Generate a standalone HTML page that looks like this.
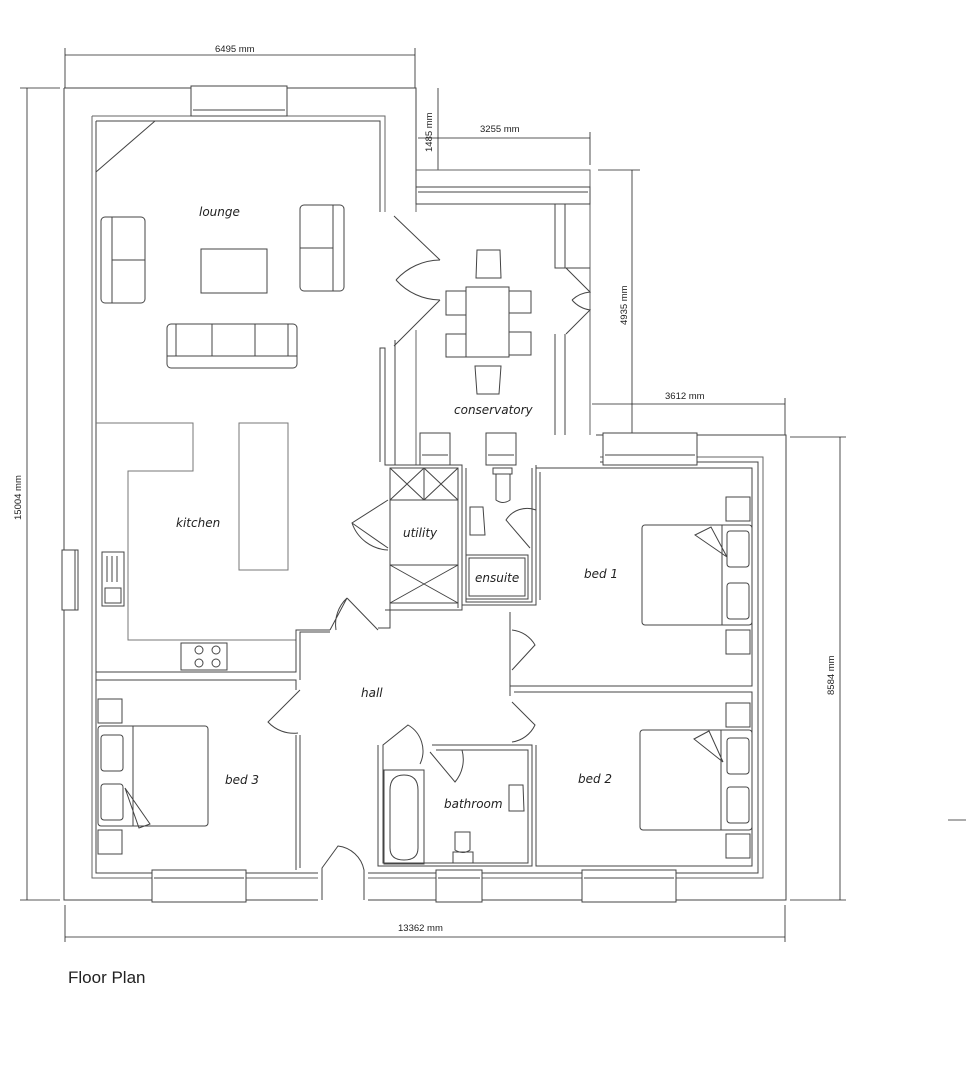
<!DOCTYPE html>
<html><head><style>
html,body{margin:0;padding:0;background:#fff;width:966px;height:1080px;overflow:hidden}
svg{display:block}
text{font-family:"Comic Sans MS","DejaVu Sans",sans-serif;fill:#222;stroke:none}
.l{font-size:12px;font-style:italic}
.d{font-family:"Liberation Sans",sans-serif;font-size:9.5px}
</style></head><body>
<svg width="966" height="1080" viewBox="0 0 966 1080" fill="none" stroke="#444" stroke-width="1">
<g stroke="#222" stroke-width="0.8">
<line x1="65" y1="55" x2="415" y2="55"/><line x1="65" y1="48" x2="65" y2="88"/><line x1="415" y1="48" x2="415" y2="88"/>
<line x1="27" y1="88" x2="27" y2="900"/><line x1="20" y1="88" x2="60" y2="88"/><line x1="20" y1="900" x2="60" y2="900"/>
<line x1="65" y1="937" x2="785" y2="937"/><line x1="65" y1="905" x2="65" y2="942"/><line x1="785" y1="905" x2="785" y2="942"/>
<line x1="418" y1="138" x2="590" y2="138"/><line x1="590" y1="132" x2="590" y2="165"/>
<line x1="438" y1="88" x2="438" y2="170"/>
<line x1="632" y1="170" x2="632" y2="435"/><line x1="598" y1="170" x2="640" y2="170"/>
<line x1="592" y1="404" x2="785" y2="404"/><line x1="785" y1="398" x2="785" y2="435"/>
<line x1="840" y1="437" x2="840" y2="900"/><line x1="790" y1="437" x2="846" y2="437"/><line x1="790" y1="900" x2="846" y2="900"/>
<line x1="948" y1="820" x2="966" y2="820"/>
</g>
<text class="d" x="215" y="52">6495 mm</text>
<text class="d" x="480" y="132">3255 mm</text>
<text class="d" x="665" y="399">3612 mm</text>
<text class="d" x="398" y="931">13362 mm</text>
<text class="d" transform="translate(21,520) rotate(-90)">15004 mm</text>
<text class="d" transform="translate(432,152) rotate(-90)">1485 mm</text>
<text class="d" transform="translate(627,325) rotate(-90)">4935 mm</text>
<text class="d" transform="translate(834,695) rotate(-90)">8584 mm</text>

<path d="M64 88 H416 V195 M64 88 V900 H786 V435 H596" />
<path d="M92 116 H385 V212 M92 116 V878 H763 V457 H600" stroke="#666"/>
<path d="M96 121 H380 V212 M96 121 V873 H758 V462 H600"/>
<rect x="191" y="86" width="96" height="30" fill="#fff"/>
<line x1="193" y1="110" x2="285" y2="110"/>
<rect x="62" y="550" width="16" height="60" fill="#fff"/>
<line x1="75" y1="550" x2="75" y2="610"/>
<rect x="152" y="870" width="94" height="32" fill="#fff"/><line x1="154" y1="878" x2="244" y2="878"/>
<rect x="436" y="870" width="46" height="32" fill="#fff"/><line x1="438" y1="878" x2="480" y2="878"/>
<rect x="582" y="870" width="94" height="32" fill="#fff"/><line x1="584" y1="878" x2="674" y2="878"/>
<rect x="318" y="868" width="50" height="34" fill="#fff" stroke="none"/>
<path d="M322 900 V868 L338 846 A30 30 0 0 1 364 870 V900"/>
<rect x="603" y="433" width="94" height="32" fill="#fff"/><line x1="605" y1="455" x2="695" y2="455"/>
<rect x="420" y="433" width="30" height="32" fill="#fff"/><line x1="422" y1="455" x2="448" y2="455"/>
<rect x="486" y="433" width="30" height="32" fill="#fff"/><line x1="488" y1="455" x2="514" y2="455"/>

<line x1="96" y1="172" x2="155" y2="121"/>
<path d="M416 170 H590 V435 M416 195 V212 M416 330 V465" stroke="#666"/>
<rect x="416" y="187" width="174" height="17"/>
<line x1="418" y1="192" x2="588" y2="192"/>
<path d="M555 204 V268 H590 M555 334 V435 M565 204 V268 M565 334 V435"/>
<path d="M395 340 V465 H385 V348 H380 V462"/>
<path d="M394 216 L440 260 M440 260 A60 60 0 0 0 396 280 M394 346 L440 300 M440 300 A60 60 0 0 1 396 280"/>
<path d="M566 268 L590 292 A30 30 0 0 0 572 300 M566 334 L590 310 A30 30 0 0 1 572 300"/>
<rect x="466" y="287" width="43" height="70"/>
<path d="M446 291 H466 V315 H446 Z M446 334 H466 V357 H446 Z M509 291 H531 V313 H509 Z M509 332 H531 V355 H509 Z"/>
<path d="M477 250 H500 L501 278 H476 Z M475 366 H501 L499 394 H477 Z"/>
<rect x="101" y="217" width="44" height="86" rx="4"/><line x1="112" y1="217" x2="112" y2="303"/><line x1="112" y1="260" x2="145" y2="260"/>
<rect x="300" y="205" width="44" height="86" rx="4"/><line x1="333" y1="205" x2="333" y2="291"/><line x1="300" y1="248" x2="333" y2="248"/>
<rect x="201" y="249" width="66" height="44"/>
<rect x="167" y="324" width="130" height="44" rx="4"/><line x1="167" y1="356" x2="297" y2="356"/><line x1="212" y1="324" x2="212" y2="356"/><line x1="255" y1="324" x2="255" y2="356"/><line x1="176" y1="324" x2="176" y2="356"/><line x1="288" y1="324" x2="288" y2="356"/>
<path d="M96 423 H193 V471 H128 V640 H296" stroke="#777"/>
<rect x="239" y="423" width="49" height="147" stroke="#777"/>
<rect x="102" y="552" width="22" height="54"/><line x1="107" y1="556" x2="107" y2="582"/><line x1="112" y1="556" x2="112" y2="582"/><line x1="117" y1="556" x2="117" y2="582"/><rect x="105" y="588" width="16" height="15"/>
<rect x="181" y="643" width="46" height="27"/><circle cx="199" cy="650" r="4"/><circle cx="216" cy="650" r="4"/><circle cx="199" cy="663" r="4"/><circle cx="216" cy="663" r="4"/>
<path d="M96 672 H296 V630 H330 M96 680 H296 V690 M300 680 V632 H330 M296 735 V870 M300 735 V868"/>
<path d="M300 690 L268 722 A35 35 0 0 0 298 733"/>
<path d="M330 630 L347 598 A36 36 0 0 0 336 630"/>
<path d="M347 598 L378 630"/>
<path d="M385 465 H462 V610 H385 M390 468 V628 H378 M458 468 V608"/>
<path d="M390 468 H458 V500 H390 Z M390 468 L424 500 M424 468 L390 500 M424 468 L458 500 M458 468 L424 500 M424 468 V500"/>
<path d="M390 565 H458 V603 H390 Z M390 565 L458 603 M458 565 L390 603"/>
<path d="M388 500 L352 523 A40 40 0 0 0 388 550 M352 523 L388 548"/>
<path d="M462 465 V605 H536 V465 M466 468 V602 H532 V468"/>
<rect x="466" y="555" width="62" height="44"/><rect x="469" y="558" width="56" height="38"/>
<path d="M493 468 H512 V474 H493 Z M496 474 H510 V500 Q503 505 496 500 Z"/>
<path d="M470 507 H483 L485 535 H470 Z"/>
<path d="M536 510 A25 25 0 0 0 506 520 L530 548"/>
<path d="M536 468 H752 V686 H510 V612 M540 472 V600 M514 692 H752 V866 H536 V745 M510 620 V632 M510 686 V696"/>
<path d="M512 630 A30 30 0 0 1 535 645 L512 670 M512 702 L535 725 A30 30 0 0 1 512 742"/>
<rect x="642" y="525" width="110" height="100" rx="3"/><line x1="722" y1="525" x2="722" y2="625"/><rect x="727" y="531" width="22" height="36" rx="3"/><rect x="727" y="583" width="22" height="36" rx="3"/>
<path d="M695 535 L711 527 L727 557 Z"/>
<rect x="726" y="497" width="24" height="24"/><rect x="726" y="630" width="24" height="24"/>
<rect x="640" y="730" width="112" height="100" rx="3"/><line x1="721" y1="730" x2="721" y2="830"/><rect x="727" y="738" width="22" height="36" rx="3"/><rect x="727" y="787" width="22" height="36" rx="3"/>
<path d="M694 739 L709 731 L723 762 Z"/>
<rect x="726" y="703" width="24" height="24"/><rect x="726" y="834" width="24" height="24"/>
<rect x="98" y="726" width="110" height="100" rx="3"/><line x1="133" y1="726" x2="133" y2="826"/><rect x="101" y="735" width="22" height="36" rx="3"/><rect x="101" y="784" width="22" height="36" rx="3"/>
<path d="M125 788 L150 824 L139 828 Z"/>
<rect x="98" y="699" width="24" height="24"/><rect x="98" y="830" width="24" height="24"/>
<path d="M378 745 V866 H532 V745 H432 M383 748 V863 H528 V750 H436"/>
<rect x="384" y="770" width="40" height="94"/><path d="M390 790 Q390 775 404 775 Q418 775 418 790 V848 Q418 860 404 860 Q390 860 390 848 Z"/>
<path d="M383 764 V745 L408 725 A30 30 0 0 1 420 764 M430 752 L455 782 A35 35 0 0 0 462 750"/>
<path d="M455 832 H470 V850 Q463 855 455 850 Z M453 852 H473 V863 H453 Z"/>
<path d="M509 785 H523 L524 811 H509 Z"/>
<text class="l" x="199" y="216">lounge</text>
<text class="l" x="176" y="527">kitchen</text>
<text class="l" x="403" y="537">utility</text>
<text class="l" x="475" y="582">ensuite</text>
<text class="l" x="584" y="578">bed 1</text>
<text class="l" x="361" y="697">hall</text>
<text class="l" x="225" y="784">bed 3</text>
<text class="l" x="444" y="808">bathroom</text>
<text class="l" x="578" y="783">bed 2</text>
<text class="l" x="454" y="414">conservatory</text>
<text x="68" y="983" style="font-family:'Liberation Sans',sans-serif;font-size:17px">Floor Plan</text>
</svg>
</body></html>
